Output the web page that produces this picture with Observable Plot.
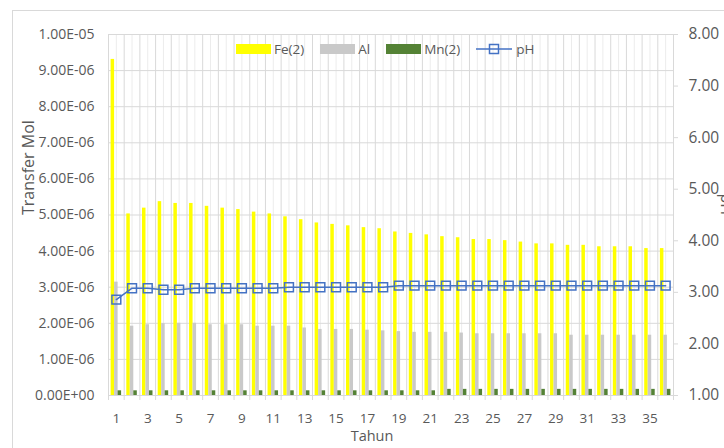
<!DOCTYPE html>
<html>
<head>
<meta charset="utf-8">
<script src="https://cdn.jsdelivr.net/npm/d3@7"></script>
<script src="https://cdn.jsdelivr.net/npm/@observablehq/plot@0.6"></script>
<style>
  html, body { margin: 0; padding: 0; background: #fff; overflow: hidden; }
  #wrap { position: relative; width: 724px; height: 448px; font-family: "Open Sans", "Liberation Sans", sans-serif; }
  #frame { position: absolute; left: 12px; top: 10px; width: 800px; height: 600px; border: 1px solid #d9d9d9; box-sizing: border-box; }
  #chart { position: absolute; left: 0; top: 0; }
  #legend { position: absolute; left: 236px; top: 40px; display: flex; align-items: center; font-size: 13.5px; color: #595959; }
  .item { display: flex; align-items: center; margin-right: 16px; }
  .sw { width: 35px; height: 10px; margin-right: 3px; }
</style>
</head>
<body>
<div id="wrap">
  <div id="frame"></div>
  <div id="chart"></div>
  <div id="legend"></div>
</div>
<script>
// ---- data ----
const years = [1,2,3,4,5,6,7,8,9,10,11,12,13,14,15,16,17,18,19,20,21,22,23,24,25,26,27,28,29,30,31,32,33,34,35,36];
// Fe(2) transfer, in units of 1e-6 mol
const fe = [9.31,5.03,5.19,5.37,5.32,5.32,5.24,5.19,5.15,5.08,5.03,4.95,4.87,4.78,4.74,4.70,4.65,4.62,4.53,4.49,4.45,4.40,4.37,4.32,4.32,4.29,4.25,4.20,4.20,4.16,4.16,4.12,4.12,4.12,4.07,4.07];
// Al transfer, in units of 1e-6 mol
const al = [3.14,1.92,1.96,1.99,2.00,2.00,1.96,1.96,1.96,1.92,1.92,1.92,1.87,1.83,1.83,1.83,1.81,1.79,1.77,1.75,1.75,1.75,1.73,1.71,1.71,1.71,1.71,1.71,1.71,1.67,1.67,1.67,1.67,1.67,1.67,1.67];
// Mn(2) transfer, in units of 1e-6 mol
const mn = [0.13,0.13,0.13,0.13,0.13,0.13,0.13,0.13,0.13,0.13,0.13,0.13,0.13,0.13,0.13,0.13,0.13,0.13,0.13,0.13,0.13,0.17,0.17,0.17,0.17,0.17,0.17,0.17,0.17,0.17,0.17,0.17,0.17,0.17,0.17,0.17];
// pH (secondary axis)
const ph = [2.86,3.08,3.08,3.05,3.05,3.08,3.08,3.08,3.08,3.08,3.08,3.10,3.10,3.10,3.10,3.10,3.10,3.10,3.13,3.13,3.13,3.13,3.13,3.13,3.13,3.13,3.13,3.13,3.13,3.13,3.13,3.13,3.13,3.13,3.13,3.13];

const yTicks = [0,1e-6,2e-6,3e-6,4e-6,5e-6,6e-6,7e-6,8e-6,9e-6,1e-5];
const phTicks = [1,2,3,4,5,6,7,8];
const xLabels = [1,3,5,7,9,11,13,15,17,19,21,23,25,27,29,31,33,35];
const seriesNames = ["Fe(2)", "Al", "Mn(2)", "pH"];
const colors = {fe: "#FFFF00", al: "#C9C9C9", mn: "#548235", ph: "#4472C4"};

// ---- build ----
const data = years.map((y, i) => ({year: y, fe: fe[i] * 1e-6, al: al[i] * 1e-6, mn: mn[i] * 1e-6, ph: ph[i]}));
const phMin = 1, phMax = 8, yMax = 1e-5;
const toY = p => (p - phMin) / (phMax - phMin) * yMax;
const fromY = v => v / yMax * (phMax - phMin) + phMin;
const bounds = [...years.map(y => y - 0.5), years[years.length - 1] + 0.5];
const fmtE = d => {
  const [m, e] = d.toExponential(2).split("e");
  const n = Math.abs(+e);
  return m + "E" + (+e < 0 ? "-" : "+") + String(n).padStart(2, "0");
};
const bw = 0.223; // bar width in category units
const font = '"Open Sans", "Liberation Sans", sans-serif';

const chart = Plot.plot({
  width: 724,
  height: 448,
  marginLeft: 108,
  marginRight: 51,
  marginTop: 34,
  marginBottom: 53,
  style: {fontFamily: font, fontSize: "12px", color: "#595959", background: "transparent", overflow: "visible"},
  x: {type: "linear", domain: [bounds[0], bounds[bounds.length - 1]]},
  y: {domain: [0, yMax]},
  marks: [
    Plot.ruleX(years, {stroke: "#ececec", strokeWidth: 1}),
    Plot.ruleX(bounds, {stroke: "#d9d9d9", strokeWidth: 1}),
    Plot.ruleY(yTicks, {stroke: "#d9d9d9", strokeWidth: 1}),
    Plot.rectY(data, {x1: d => d.year - 1.5 * bw, x2: d => d.year - 0.5 * bw, y: "fe", fill: colors.fe}),
    Plot.rectY(data, {x1: d => d.year - 0.5 * bw, x2: d => d.year + 0.5 * bw, y: "al", fill: colors.al}),
    Plot.rectY(data, {x1: d => d.year + 0.5 * bw, x2: d => d.year + 1.5 * bw, y: "mn", fill: colors.mn}),
    Plot.line(data, {x: "year", y: d => toY(d.ph), stroke: colors.ph, strokeWidth: 1.5}),
    Plot.dot(data, {x: "year", y: d => toY(d.ph), symbol: "square", r: 5, stroke: colors.ph, strokeWidth: 1.5, fill: "none"}),
    Plot.axisY({ticks: yTicks, tickFormat: fmtE, tickSize: 0, tickPadding: 14, label: null, fill: "#595959", fontSize: 14}),
    Plot.axisY({anchor: "right", ticks: phTicks.map(toY), tickFormat: d => fromY(d).toFixed(2), tickSize: 4, tickPadding: 11, stroke: "#d9d9d9", fill: "#595959", label: null, fontSize: 15.5}),
    Plot.axisX({ticks: xLabels, tickFormat: d => String(d), tickSize: 0, tickPadding: 18, fill: "#595959", label: null, fontSize: 13.5}),
    Plot.axisX({ticks: bounds, tickFormat: () => "", tickSize: 5, stroke: "#d9d9d9", label: null}),
    Plot.text(["Transfer Mol"], {frameAnchor: "left", dx: -80, rotate: -90, fontSize: 16, fill: "#595959"}),
    Plot.text(["Tahun"], {frameAnchor: "bottom", dx: -19, dy: 45, fontSize: 14.5, fill: "#595959"}),
    Plot.text(["pH"], {frameAnchor: "right", dx: 53, rotate: 90, fontSize: 16, fill: "#595959"})
  ]
});
document.getElementById("chart").appendChild(chart);

// ---- legend ----
const legend = document.getElementById("legend");
const swatchColors = [colors.fe, colors.al, colors.mn];
seriesNames.forEach((name, i) => {
  const item = document.createElement("div");
  item.className = "item";
  if (i < 3) {
    const sw = document.createElement("div");
    sw.className = "sw";
    sw.style.background = swatchColors[i];
    item.appendChild(sw);
  } else {
    const ns = "http://www.w3.org/2000/svg";
    const s = document.createElementNS(ns, "svg");
    s.setAttribute("width", 36); s.setAttribute("height", 12); s.style.marginRight = "4px";
    const l = document.createElementNS(ns, "line");
    l.setAttribute("x1", 0); l.setAttribute("x2", 36); l.setAttribute("y1", 6); l.setAttribute("y2", 6);
    l.setAttribute("stroke", colors.ph); l.setAttribute("stroke-width", 1.5);
    const r = document.createElementNS(ns, "rect");
    r.setAttribute("x", 13.5); r.setAttribute("y", 1.5); r.setAttribute("width", 9); r.setAttribute("height", 9);
    r.setAttribute("fill", "none"); r.setAttribute("stroke", colors.ph); r.setAttribute("stroke-width", 1.5);
    s.appendChild(l); s.appendChild(r);
    item.appendChild(s);
  }
  const t = document.createElement("span");
  t.textContent = name;
  item.appendChild(t);
  legend.appendChild(item);
});
</script>
</body>
</html>
